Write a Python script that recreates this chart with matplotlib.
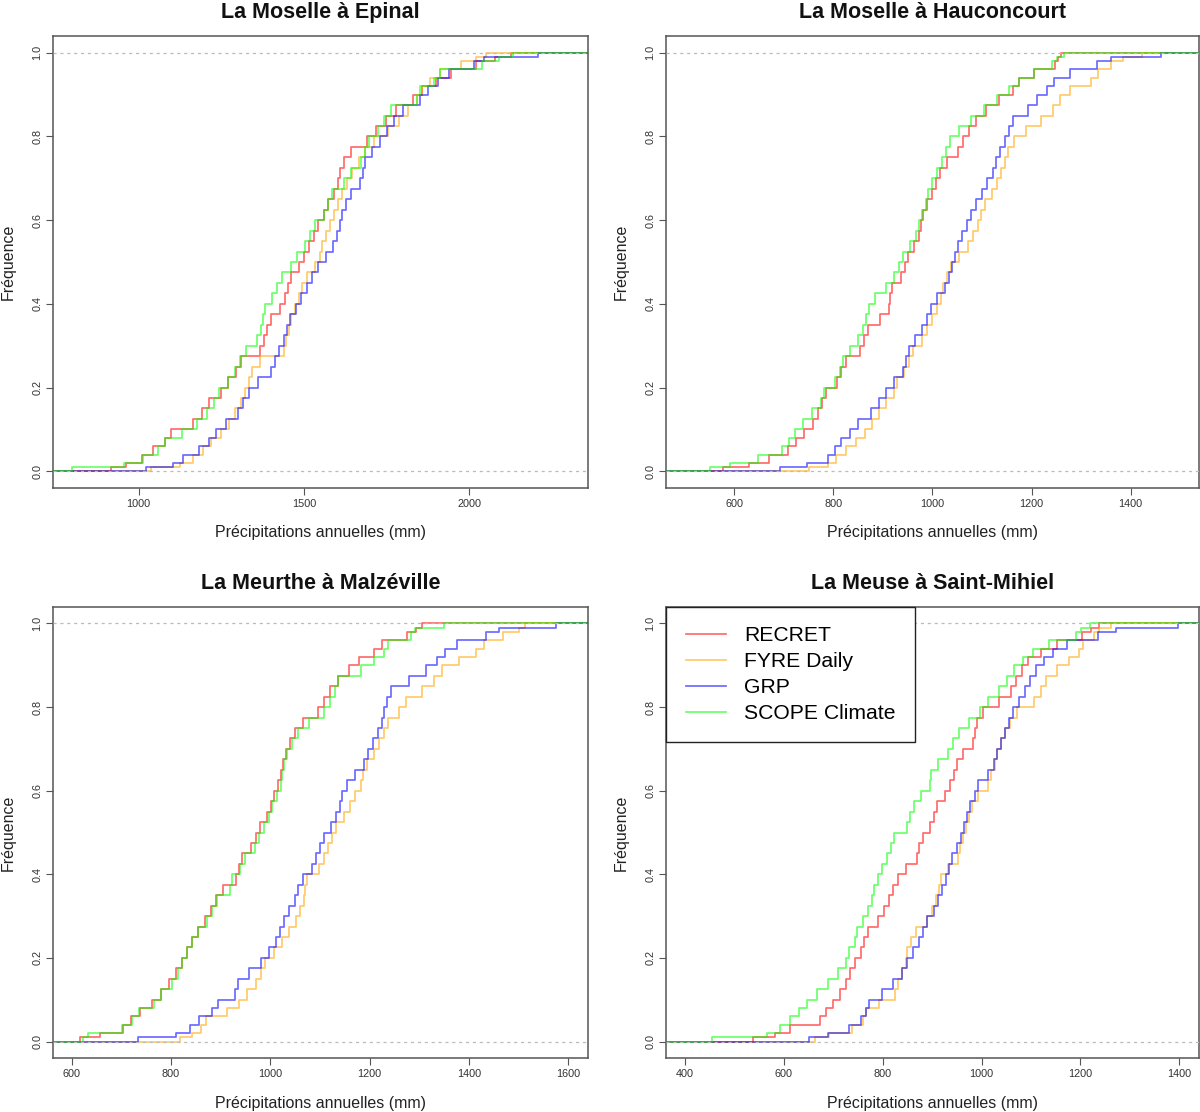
import numpy as np
import matplotlib
matplotlib.use("Agg")
import matplotlib.pyplot as plt

plt.rcParams['font.family'] = ['Liberation Sans', 'DejaVu Sans']

# Frequency levels (shared) reached by each empirical CDF at the listed precipitation values
freq = [0.01, 0.02, 0.04, 0.06, 0.08, 0.10,
        0.125, 0.15, 0.175, 0.20, 0.225, 0.25, 0.275, 0.30, 0.325, 0.35,
        0.375, 0.40, 0.425, 0.45, 0.475, 0.50, 0.525, 0.55, 0.575, 0.60,
        0.625, 0.65, 0.675, 0.70, 0.725, 0.75, 0.775, 0.80, 0.825, 0.85,
        0.875, 0.90, 0.92, 0.94, 0.96, 0.98, 0.99, 1.0]

series_names = ["RECRET", "FYRE Daily", "GRP", "SCOPE Climate"]
titles = ["La Moselle à Epinal", "La Moselle à Hauconcourt",
          "La Meurthe à Malzéville", "La Meuse à Saint-Mihiel"]
xlabel = "Précipitations annuelles (mm)"
ylabel = "Fréquence"

# --- La Moselle à Epinal (mm)
epinal_recret = [916, 963, 1009, 1044, 1079, 1097, 1166, 1193, 1213, 1248, 1271, 1294, 1309, 1367, 1379, 1387,
                 1399, 1428, 1442, 1451, 1461, 1486, 1500, 1515, 1530, 1544, 1562, 1573, 1591, 1602, 1608, 1620,
                 1643, 1690, 1719, 1748, 1777, 1829, 1858, 1899, 1945, 2021, 2079, 2126]
epinal_fyre = [1038, 1126, 1166, 1195, 1219, 1248, 1274, 1291, 1309, 1323, 1335, 1344, 1367, 1440, 1445, 1454,
               1461, 1472, 1484, 1495, 1509, 1535, 1550, 1556, 1568, 1579, 1591, 1602, 1616, 1631, 1646, 1666,
               1684, 1713, 1754, 1789, 1814, 1841, 1858, 1881, 1911, 1975, 2021, 2050]
epinal_grp = [1021, 1105, 1135, 1184, 1213, 1233, 1265, 1300, 1317, 1335, 1360, 1399, 1414, 1426, 1440, 1449,
              1457, 1477, 1492, 1509, 1523, 1544, 1568, 1588, 1600, 1608, 1616, 1626, 1643, 1670, 1678, 1686,
              1705, 1730, 1751, 1771, 1800, 1852, 1876, 1905, 1940, 2015, 2045, 2207]
epinal_scope = [800, 957, 1012, 1059, 1081, 1131, 1178, 1207, 1228, 1242, 1271, 1291, 1306, 1326, 1358, 1370,
                1376, 1381, 1402, 1419, 1434, 1461, 1480, 1504, 1519, 1535, 1562, 1573, 1585, 1620, 1643, 1672,
                1686, 1698, 1725, 1742, 1763, 1841, 1852, 1893, 1911, 2038, 2091, 2132]

# --- La Moselle à Hauconcourt (mm)
hauc_recret = [577, 629, 670, 708, 724, 740, 759, 769, 777, 786, 808, 815, 825, 854, 862, 869,
               894, 912, 914, 919, 937, 945, 951, 963, 972, 977, 981, 988, 999, 1007, 1015, 1030,
               1051, 1061, 1073, 1088, 1108, 1135, 1162, 1174, 1205, 1247, 1253, 1259]
hauc_fyre = [751, 790, 805, 825, 846, 864, 877, 893, 906, 922, 929, 943, 953, 960, 978, 989,
             999, 1009, 1017, 1022, 1030, 1038, 1053, 1071, 1082, 1092, 1097, 1106, 1120, 1131, 1138, 1146,
             1152, 1164, 1189, 1220, 1243, 1257, 1278, 1321, 1335, 1360, 1384, 1422]
hauc_grp = [693, 746, 790, 803, 815, 833, 850, 875, 892, 906, 922, 941, 947, 953, 964, 978,
            988, 997, 1009, 1025, 1034, 1040, 1046, 1051, 1059, 1069, 1077, 1087, 1100, 1111, 1123, 1128,
            1136, 1146, 1154, 1162, 1193, 1212, 1231, 1245, 1278, 1332, 1360, 1462]
hauc_scope = [552, 592, 647, 697, 710, 722, 738, 757, 775, 781, 803, 813, 819, 833, 850, 860,
              865, 871, 885, 906, 922, 932, 941, 955, 966, 972, 979, 986, 991, 999, 1009, 1019,
              1028, 1036, 1054, 1077, 1104, 1131, 1154, 1174, 1205, 1242, 1251, 1265]

# --- La Meurthe à Malzéville (mm)
malz_recret = [616, 658, 704, 720, 738, 761, 780, 797, 810, 823, 833, 842, 854, 869, 881, 890,
               904, 931, 936, 944, 962, 972, 979, 993, 1001, 1008, 1016, 1022, 1026, 1032, 1039, 1049,
               1066, 1097, 1109, 1121, 1136, 1159, 1178, 1209, 1225, 1275, 1294, 1306]
malz_fyre = [819, 842, 861, 871, 912, 936, 954, 972, 981, 989, 1008, 1024, 1037, 1051, 1060, 1068,
             1070, 1074, 1099, 1109, 1116, 1124, 1132, 1148, 1161, 1171, 1182, 1186, 1194, 1209, 1219, 1229,
             1238, 1260, 1274, 1305, 1329, 1345, 1380, 1414, 1431, 1468, 1500, 1512]
malz_grp = [734, 811, 838, 856, 882, 895, 929, 935, 957, 981, 997, 1012, 1020, 1028, 1037, 1049,
            1055, 1065, 1083, 1093, 1101, 1109, 1122, 1132, 1140, 1145, 1155, 1171, 1189, 1196, 1207, 1217,
            1225, 1229, 1235, 1244, 1279, 1314, 1336, 1352, 1376, 1434, 1461, 1575]
malz_scope = [622, 632, 701, 722, 735, 765, 780, 802, 815, 823, 833, 842, 854, 872, 882, 892,
              919, 923, 939, 950, 970, 977, 987, 997, 1003, 1014, 1022, 1024, 1028, 1034, 1043, 1055,
              1078, 1109, 1121, 1130, 1136, 1182, 1209, 1229, 1237, 1283, 1291, 1349]

# --- La Meuse à Saint-Mihiel (mm)
mihiel_recret = [538, 581, 612, 672, 686, 700, 713, 725, 734, 744, 755, 762, 770, 791, 803, 812,
                 820, 830, 846, 869, 873, 881, 895, 903, 910, 926, 937, 945, 951, 963, 982, 986,
                 991, 1003, 1036, 1059, 1069, 1081, 1094, 1121, 1153, 1203, 1221, 1238]
mihiel_fyre = [663, 692, 737, 760, 765, 793, 825, 830, 838, 846, 849, 857, 867, 889, 900, 908,
               913, 918, 931, 952, 957, 962, 968, 974, 980, 993, 1013, 1020, 1027, 1032, 1040, 1048,
               1058, 1071, 1106, 1120, 1130, 1153, 1176, 1198, 1206, 1227, 1237, 1262]
mihiel_grp = [651, 690, 731, 756, 765, 772, 799, 820, 838, 848, 861, 873, 881, 890, 903, 912,
              919, 927, 933, 941, 950, 958, 965, 970, 976, 986, 993, 1013, 1025, 1032, 1040, 1048,
              1056, 1063, 1075, 1087, 1098, 1110, 1126, 1145, 1172, 1235, 1273, 1398]
mihiel_scope = [454, 566, 591, 612, 630, 647, 667, 690, 709, 725, 731, 744, 748, 760, 770, 778,
                783, 791, 799, 809, 817, 822, 848, 856, 863, 877, 895, 898, 912, 932, 943, 954,
                975, 996, 1013, 1036, 1052, 1066, 1083, 1104, 1137, 1192, 1201, 1219]

xticks_list = [[1000, 1500, 2000],
               [600, 800, 1000, 1200, 1400],
               [600, 800, 1000, 1200, 1400, 1600],
               [400, 600, 800, 1000, 1200, 1400]]
xlims = [(742, 2358), (463, 1538), (563, 1639), (362, 1440)]
yticks = [0.0, 0.2, 0.4, 0.6, 0.8, 1.0]

panels = [
    [epinal_recret, epinal_fyre, epinal_grp, epinal_scope],
    [hauc_recret, hauc_fyre, hauc_grp, hauc_scope],
    [malz_recret, malz_fyre, malz_grp, malz_scope],
    [mihiel_recret, mihiel_fyre, mihiel_grp, mihiel_scope],
]

colors = [(1.0, 0.0, 0.0, 0.58), (1.0, 0.647, 0.0, 0.58), (0.0, 0.0, 1.0, 0.58), (0.0, 1.0, 0.0, 0.58)]

fig = plt.figure(figsize=(12, 11.12), dpi=100)
W, H = 1200.0, 1112.0
boxes = [
    (53.3, 36.0, 587.6, 488.0),
    (666.4, 36.0, 1199.0, 488.0),
    (53.3, 606.7, 587.6, 1058.3),
    (666.4, 606.7, 1199.0, 1058.3),
]

for i, (x0, y0, x1, y1) in enumerate(boxes):
    ax = fig.add_axes([x0 / W, 1 - y1 / H, (x1 - x0) / W, (y1 - y0) / H])
    lo, hi = xlims[i]
    for xs, col, name in zip(panels[i], colors, series_names):
        x = np.concatenate([[lo - 200], np.asarray(xs, float), [hi + 200]])
        y = np.concatenate([[0.0], np.asarray(freq, float), [1.0]])
        ax.step(x, y, where='post', color=col, lw=1.25, label=name, zorder=2)
    for h in (0.0, 1.0):
        ax.axhline(h, color='#BBBBBB', ls=(0, (2.5, 3)), lw=0.9, zorder=5)
    ax.set_xlim(lo, hi)
    ax.set_ylim(-0.04, 1.04)
    ax.set_xticks(xticks_list[i])
    ax.set_xticklabels([str(t) for t in xticks_list[i]])
    ax.set_yticks(yticks)
    ax.set_yticklabels(["%.1f" % t for t in yticks], rotation=90, va='center')
    ax.tick_params(direction='out', length=5, width=0.8, color='#555555',
                   labelsize=7.8, labelcolor='#333333', pad=3)
    for sp in ax.spines.values():
        sp.set_color('#555555')
        sp.set_linewidth(1.1)
    hpx = y1 - y0
    wpx = x1 - x0
    ax.text(0.5, 1 + 23.5 / hpx, titles[i], transform=ax.transAxes, ha='center', va='center',
            fontsize=15.5, fontweight='bold', color='#111111')
    ax.text(0.5, -45.0 / hpx, xlabel, transform=ax.transAxes, ha='center', va='center',
            fontsize=11.5, color='#222222')
    ax.text(-45.5 / wpx, 0.5, ylabel, transform=ax.transAxes, ha='center', va='center',
            rotation=90, fontsize=11.5, color='#222222')
    if i == 3:
        leg = ax.legend(loc='upper left', bbox_to_anchor=(0, 1), borderaxespad=0,
                        fontsize=15.2, fancybox=False, edgecolor='#222222', framealpha=1,
                        handlelength=1.9, handletextpad=0.85, borderpad=0.92,
                        labelspacing=0.33)
        leg.get_frame().set_linewidth(1.0)
        leg.set_zorder(10)

fig.savefig("out.png", dpi=100)
